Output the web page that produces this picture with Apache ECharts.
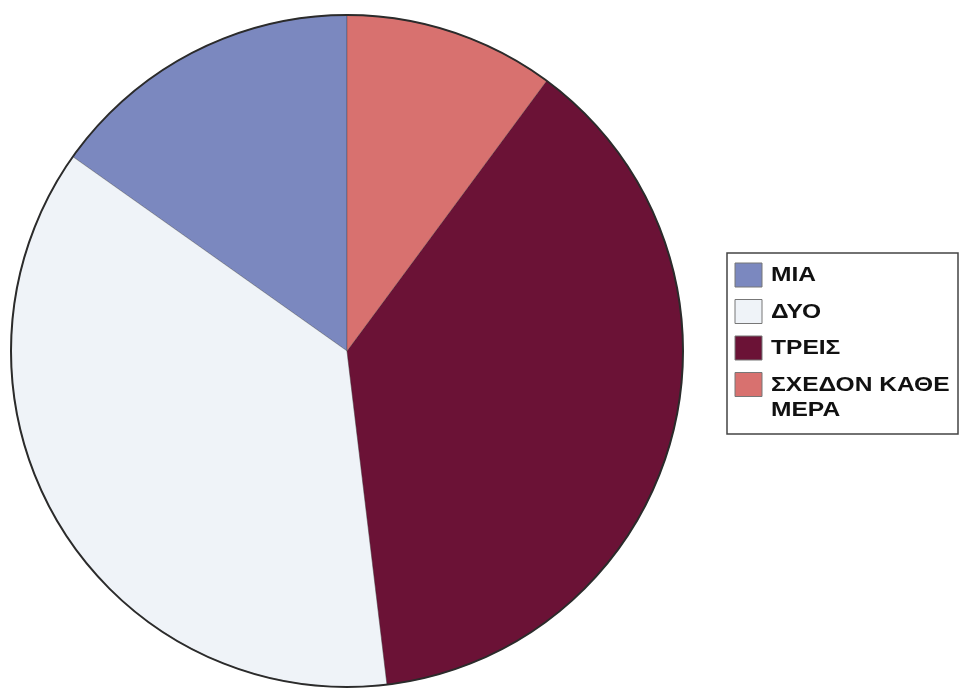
<!DOCTYPE html>
<html>
<head>
<meta charset="utf-8">
<script src="https://cdn.jsdelivr.net/npm/echarts@6/dist/echarts.min.js"></script>
<style>
  html, body { margin: 0; padding: 0; background: #ffffff; }
  #chart { width: 961px; height: 690px; }
</style>
</head>
<body>
<div id="chart"></div>
<script>
// Answers per category (counts)
const categories = ['ΜΙΑ', 'ΔΥΟ', 'ΤΡΕΙΣ', 'ΣΧΕΔΟΝ ΚΑΘΕ ΜΕΡΑ'];
const counts = [12, 29, 30, 8];
const legendLabels = ['ΜΙΑ', 'ΔΥΟ', 'ΤΡΕΙΣ', 'ΣΧΕΔΟΝ ΚΑΘΕ\nΜΕΡΑ'];
const sliceColors = ['#7b88bf', '#eff3f8', '#6b1236', '#d8716f'];

const chart = echarts.init(document.getElementById('chart'), null, { renderer: 'canvas' });

const FONT = '"Liberation Sans", Arial, sans-serif';
const CENTER = [347, 351];
const RADIUS = 336;

// Legend drawn as a boxed list on the right
const legendBox = { x: 727, y: 253, w: 231, h: 181 };
const markerX = 735, markerW = 27, markerH = 24, firstTop = 263, step = 36.5;
const legendChildren = [{
  type: 'rect',
  shape: { x: legendBox.x, y: legendBox.y, width: legendBox.w, height: legendBox.h },
  style: { fill: '#ffffff', stroke: '#444444', lineWidth: 1.5 }
}];
categories.forEach(function (name, i) {
  const top = firstTop + i * step;
  legendChildren.push({
    type: 'rect',
    shape: { x: markerX, y: top, width: markerW, height: markerH },
    style: { fill: sliceColors[i], stroke: '#777777', lineWidth: 1 }
  });
  legendChildren.push({
    type: 'text',
    x: markerX + markerW + 9,
    y: top + markerH / 2 - 12,
    scaleX: 1.17,
    style: {
      text: legendLabels[i],
      fill: '#111111',
      font: 'bold 21px ' + FONT,
      lineHeight: 25,
      verticalAlign: 'top',
      align: 'left'
    }
  });
});

const total = counts.reduce(function (a, b) { return a + b; }, 0);

chart.setOption({
  animation: false,
  backgroundColor: '#ffffff',
  series: [
    {
      type: 'pie',
      center: CENTER,
      radius: RADIUS,
      startAngle: 90,
      clockwise: false,
      silent: true,
      label: { show: false },
      labelLine: { show: false },
      itemStyle: { borderColor: 'rgba(40,40,40,0.35)', borderWidth: 0.8 },
      data: categories.map(function (name, i) {
        return { name: name, value: counts[i], itemStyle: { color: sliceColors[i] } };
      })
    },
    {
      // dark outline round the pie
      type: 'pie',
      center: CENTER,
      radius: RADIUS,
      silent: true,
      label: { show: false },
      labelLine: { show: false },
      itemStyle: { color: 'rgba(0,0,0,0)', borderColor: '#2b2b2b', borderWidth: 2 },
      data: [{ name: 'outline', value: total }]
    }
  ],
  graphic: [{ type: 'group', children: legendChildren }]
});
</script>
</body>
</html>
